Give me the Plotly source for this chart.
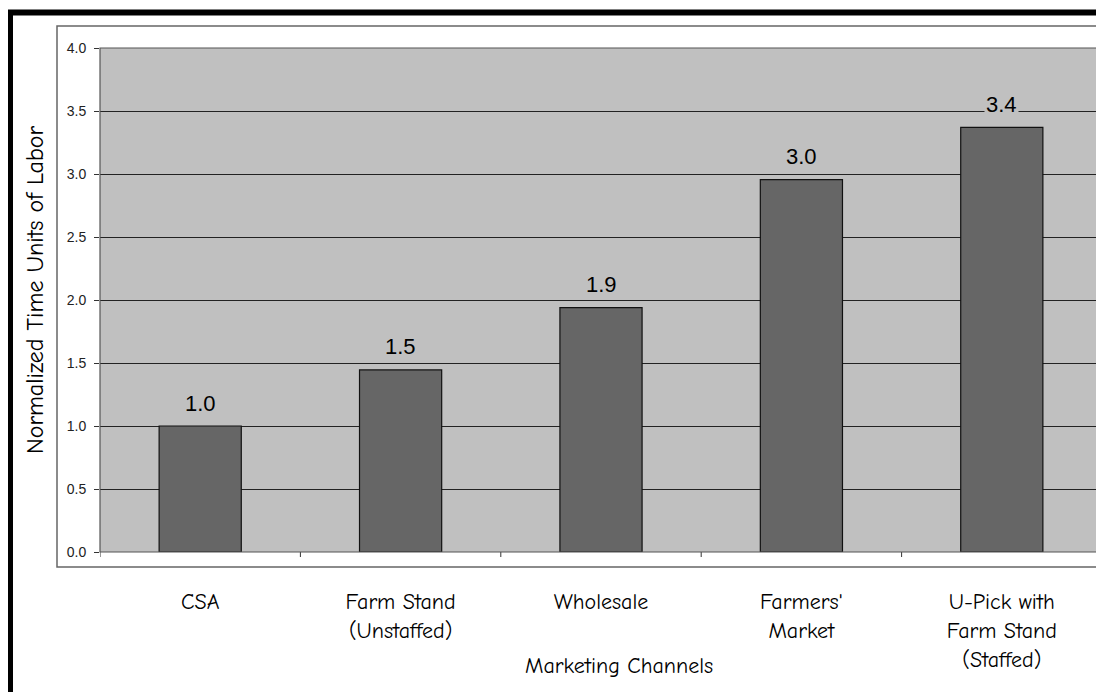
import plotly.graph_objects as go

# Data
channels = ["CSA", "Farm Stand<br>(Unstaffed)", "Wholesale", "Farmers'<br>Market",
            "U-Pick with<br>Farm Stand<br>(Staffed)"]
labor = [1.0, 1.445, 1.94, 2.955, 3.37]
labels = ["1.0", "1.5", "1.9", "3.0", "3.4"]
y_ticks = [0.0, 0.5, 1.0, 1.5, 2.0, 2.5, 3.0, 3.5, 4.0]

hand_font = "Comic Sans MS, Comic Neue, Noto Sans, DejaVu Sans, sans-serif"
num_font = "Liberation Sans, Arial, sans-serif"

# page body has an 8px margin, so the figure is 8px smaller than the window
fig = go.Figure()
fig.add_trace(go.Bar(
    x=list(range(len(channels))), y=labor, width=0.41,
    marker=dict(color="#666666", line=dict(color="#111111", width=1.2)),
    hoverinfo="skip",
))

# value labels above the bars, with plot-colour background to break gridlines
for i, (v, t) in enumerate(zip(labor, labels)):
    fig.add_annotation(x=i, y=v, text=t, showarrow=False, yshift=23,
                       font=dict(family=num_font, size=22, color="black"),
                       bgcolor="#C0C0C0", borderpad=1)

fig.update_layout(
    width=1096, height=684,
    margin=dict(l=92, r=2, t=40, b=140),
    paper_bgcolor="white", plot_bgcolor="#C0C0C0",
    showlegend=False,
    xaxis=dict(
        range=[-0.5, len(channels) - 0.5],
        tickmode="array", tickvals=list(range(len(channels))), ticktext=channels,
        ticks="outside", ticklen=30, tickcolor="rgba(0,0,0,0)",
        showgrid=False, zeroline=False,
        tickfont=dict(family=hand_font, size=22, color="black"),
        showline=False,
    ),
    yaxis=dict(
        range=[0, 4], tickmode="array", tickvals=y_ticks,
        ticktext=[f"{v:.1f}" for v in y_ticks],
        ticks="outside", ticklen=5, tickcolor="#333333",
        ticklabelstandoff=5,
        showgrid=True, gridcolor="#222222", gridwidth=1, zeroline=False,
        tickfont=dict(family=num_font, size=14, color="#222222"),
        showline=False,
    ),
)

# pixel (window) -> paper helpers; plot area spans x 100..1102, y 48..552
def px(x):
    return (x - 100) / 1002
def py(y):
    return (552 - y) / 504

# axis titles
fig.add_annotation(xref="paper", yref="paper", x=px(619), y=py(666),
                   xanchor="center", yanchor="middle",
                   text="Marketing Channels", showarrow=False,
                   font=dict(family=hand_font, size=22, color="black"))
fig.add_annotation(xref="paper", yref="paper", x=px(35), y=py(290),
                   xanchor="center", yanchor="middle",
                   text="Normalized Time Units of Labor", showarrow=False, textangle=-90,
                   font=dict(family=hand_font, size=24, color="black"))

# boundary ticks between categories on the x axis
for b in [k + 0.5 for k in range(-1, len(channels))]:
    fig.add_shape(type="line", xref="x", yref="paper", x0=b, x1=b, y0=0, y1=py(557),
                  line=dict(color="#333333", width=1))

# plot area border
fig.add_shape(type="rect", xref="paper", yref="paper", x0=0, x1=1, y0=0, y1=1,
              line=dict(color="#555555", width=1.2), layer="above")

# inner chart box
fig.add_shape(type="rect", xref="paper", yref="paper",
              x0=px(57), x1=px(1102), y0=py(567), y1=py(26),
              line=dict(color="#666666", width=1.5))
# heavy black frame along top and left edges
fig.add_shape(type="line", xref="paper", yref="paper",
              x0=px(7), x1=px(1110), y0=py(12.5), y1=py(12.5),
              line=dict(color="black", width=6))
fig.add_shape(type="line", xref="paper", yref="paper",
              x0=px(10), x1=px(10), y0=py(10), y1=py(700),
              line=dict(color="black", width=6))

fig.write_html("out.html")
